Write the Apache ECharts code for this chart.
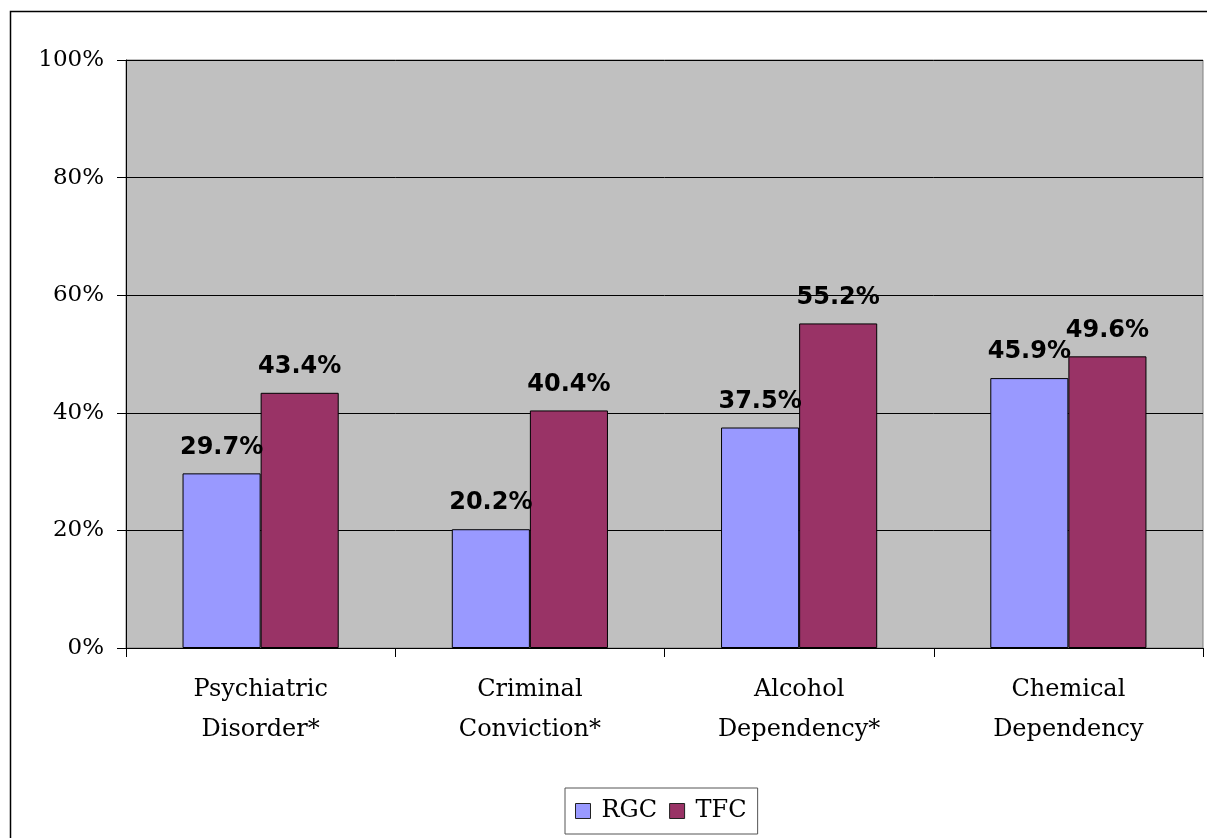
<!DOCTYPE html>
<html>
<head>
    <meta http-equiv="content-type" content="text/html;charset=utf-8" />
    <title>RGC vs TFC</title>
    <script src="https://cdn.jsdelivr.net/npm/echarts@6/dist/echarts.min.js"></script>
    <style type="text/css">
        * { margin: 0; padding: 0 }
        html, body { background: #fff; }
        #chart { width: 1207px; height: 838px; }
    </style>
</head>
<body>
<div id="chart"></div>
<script>
    // data
    var categories = ["Psychiatric\nDisorder*", "Criminal\nConviction*", "Alcohol\nDependency*", "Chemical\nDependency"];
    var rgcValues = [29.7, 20.2, 37.5, 45.9];
    var tfcValues = [43.4, 40.4, 55.2, 49.6];
    var seriesNames = ["RGC", "TFC"];

    var serif = "DejaVu Serif";
    var chart = echarts.init(document.getElementById("chart"));

    function barLabel() {
        return {
            show: true,
            position: 'top',
            distance: 14,
            color: '#000',
            fontFamily: 'DejaVu Sans',
            fontWeight: 'bold',
            fontSize: 24,
            formatter: function (p) { return p.value.toFixed(1) + '%'; }
        };
    }

    var option = {
        animation: false,
        graphic: [{
            type: 'rect',
            shape: { x: 10.5, y: 11.5, width: 1220, height: 860 },
            style: { fill: 'none', stroke: '#000', lineWidth: 1.5 },
            silent: true
        }],
        grid: {
            left: 126, right: 4, top: 60, bottom: 190,
            show: true,
            backgroundColor: '#c0c0c0',
            borderColor: '#808080',
            borderWidth: 1
        },
        legend: {
            data: seriesNames,
            bottom: 4,
            left: 565,
            itemWidth: 15,
            itemHeight: 15,
            itemGap: 12,
            icon: 'rect',
            padding: [11, 11, 11, 10],
            borderColor: '#555',
            borderWidth: 1,
            itemStyle: { borderColor: '#222', borderWidth: 1 },
            textStyle: { fontFamily: serif, fontSize: 24, color: '#000', padding: [0, 0, 0, 6] }
        },
        xAxis: {
            type: 'category',
            data: categories,
            axisLine: { lineStyle: { color: '#000', width: 1 } },
            axisTick: { show: true, length: 9, lineStyle: { color: '#000' } },
            axisLabel: {
                margin: 22,
                color: '#000',
                fontFamily: serif,
                fontSize: 24,
                lineHeight: 40
            }
        },
        yAxis: {
            type: 'value',
            min: 0,
            max: 100,
            interval: 20,
            axisLine: { show: true, lineStyle: { color: '#000', width: 1 } },
            axisTick: { show: true, length: 9, lineStyle: { color: '#000' } },
            splitLine: { lineStyle: { color: '#000', width: 1 } },
            axisLabel: {
                margin: 22,
                color: '#000',
                fontFamily: serif,
                fontSize: 23,
                formatter: '{value}%'
            }
        },
        series: [
            {
                name: "RGC",
                type: 'bar',
                data: rgcValues,
                barGap: '0%',
                barCategoryGap: '42%',
                itemStyle: { color: '#9999ff', borderColor: '#000', borderWidth: 1 },
                label: barLabel()
            },
            {
                name: "TFC",
                type: 'bar',
                data: tfcValues,
                itemStyle: { color: '#993366', borderColor: '#000', borderWidth: 1 },
                label: barLabel()
            }
        ]
    };
    chart.setOption(option);
</script>
</body>
</html>
